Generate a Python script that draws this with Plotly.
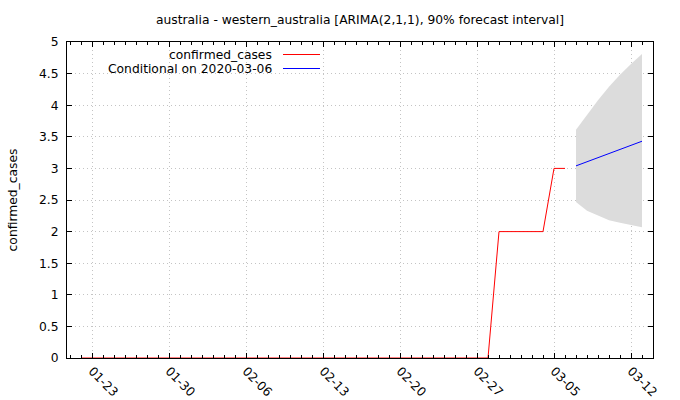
import plotly.graph_objects as go
import pandas as pd

# Observed data
obs_dates = pd.date_range("2020-01-22", "2020-03-06", freq="D").strftime("%Y-%m-%d").tolist()
obs_values = [0] * 38 + [2, 2, 2, 2, 2, 3, 3]

# Forecast (conditional on 2020-03-06)
fc_dates = ["2020-03-07", "2020-03-08", "2020-03-09", "2020-03-10", "2020-03-11", "2020-03-12", "2020-03-13"]
fc_mean = [3.04, 3.105, 3.17, 3.235, 3.30, 3.365, 3.43]
fc_upper = [3.61, 3.84, 4.08, 4.29, 4.48, 4.65, 4.81]
fc_lower = [2.47, 2.33, 2.25, 2.18, 2.14, 2.10, 2.07]

y_ticks = [0, 0.5, 1, 1.5, 2, 2.5, 3, 3.5, 4, 4.5, 5]
y_tick_labels = ["0", "0.5", "1", "1.5", "2", "2.5", "3", "3.5", "4", "4.5", "5"]

title = "australia - western_australia [ARIMA(2,1,1), 90% forecast interval]"
legend_labels = ["confirmed_cases", "Conditional on 2020-03-06"]
colors = ["#ff0000", "#0000ff"]

FONT = "DejaVu Sans"
FS = 12.3

fig = go.Figure()
fig.add_trace(go.Scatter(
    x=fc_dates + fc_dates[::-1], y=fc_upper + fc_lower[::-1],
    fill="toself", fillcolor="#dcdcdc", line=dict(width=0), mode="lines",
    hoverinfo="skip", showlegend=False))
fig.add_trace(go.Scatter(x=obs_dates, y=obs_values, mode="lines",
                         line=dict(color=colors[0], width=1), showlegend=False))
fig.add_trace(go.Scatter(x=fc_dates, y=fc_mean, mode="lines",
                         line=dict(color=colors[1], width=1), showlegend=False))

L, R, T, B = 67, 653, 42, 358
W, H = 680, 400

def px(x):
    return (x - L) / (R - L)

def py(y):
    return (B - y) / (B - T)

annotations = []
shapes = []
for i, (lab, col) in enumerate(zip(legend_labels, colors)):
    yy = 54.5 + 14 * i
    annotations.append(dict(text=lab, xref="paper", yref="paper", x=px(274), y=py(yy),
                            xanchor="right", yanchor="middle", showarrow=False,
                            font=dict(family=FONT, size=FS, color="#000")))
    shapes.append(dict(type="line", xref="paper", yref="paper", x0=px(283), x1=px(320),
                       y0=py(yy), y1=py(yy), line=dict(color=col, width=1)))

fig.update_layout(
    width=W, height=H,
    margin=dict(l=L, r=W - R, t=T, b=H - B),
    paper_bgcolor="white", plot_bgcolor="white",
    font=dict(family=FONT, size=FS, color="#000"),
    title=dict(text=title, x=(L + R) / 2 / W, xanchor="center", y=1 - 20 / H, yanchor="middle",
               font=dict(family=FONT, size=FS, color="#000")),
    annotations=annotations, shapes=shapes,
    showlegend=False,
)
fig.update_xaxes(
    type="date", range=["2020-01-20 17:27", "2020-03-14 00:00"], automargin=False,
    tick0="2020-01-23", dtick=7 * 86400000, tickformat="%m-%d", tickangle=45,
    ticks="inside", ticklen=5, tickcolor="#000", showline=True, linecolor="#000", linewidth=1,
    mirror="allticks", showgrid=True, gridcolor="#c4c4c4", griddash="1px,3px", gridwidth=1,
    minor=dict(dtick=86400000, ticks="inside", ticklen=3, tickcolor="#000", showgrid=False),
    zeroline=False, tickfont=dict(family=FONT, size=FS),
)
fig.update_yaxes(
    range=[0, 5], tickvals=y_ticks, ticktext=y_tick_labels, automargin=False,
    ticks="inside", ticklen=5, tickcolor="#000", showline=True, linecolor="#000", linewidth=1,
    mirror="allticks", showgrid=True, gridcolor="#c4c4c4", griddash="1px,3px", gridwidth=1,
    zeroline=False, tickfont=dict(family=FONT, size=FS), ticklabelstandoff=5,
    title=dict(text="confirmed_cases", font=dict(family=FONT, size=FS), standoff=18),
)

fig.write_html("out.html", config={"displayModeBar": False},
               post_script="document.body.style.margin='0';")
